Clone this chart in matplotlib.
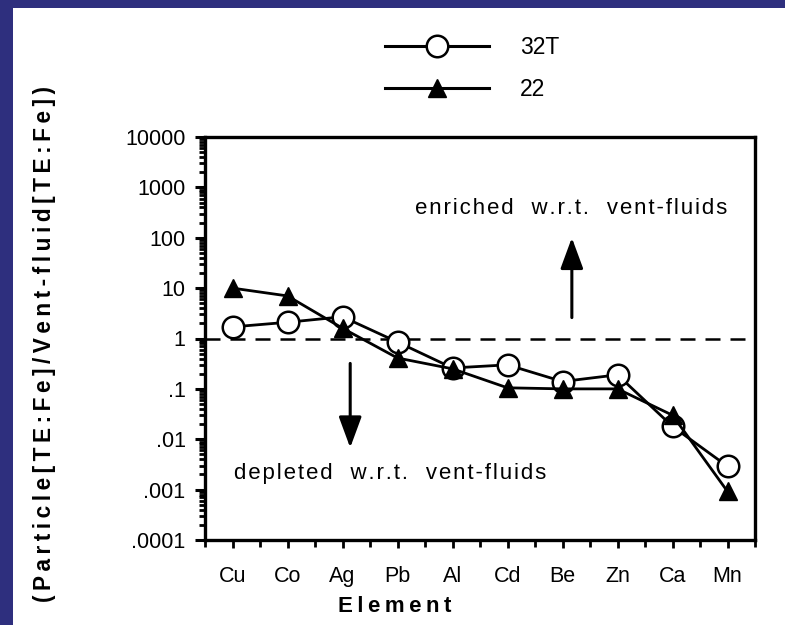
import matplotlib
matplotlib.use("Agg")
import matplotlib.pyplot as plt
from matplotlib.patches import Rectangle
from matplotlib.lines import Line2D
from matplotlib.ticker import LogLocator, FixedLocator, FixedFormatter, NullFormatter
import numpy as np

plt.rcParams['font.family'] = ['Liberation Sans', 'DejaVu Sans']

# elements along x, ratios read per station
elements = ['Cu', 'Co', 'Ag', 'Pb', 'Al', 'Cd', 'Be', 'Zn', 'Ca', 'Mn']
ratio_32T = [1.7, 2.1, 2.7, 0.85, 0.26, 0.30, 0.14, 0.19, 0.018, 0.0029]
ratio_22 = [10.0, 7.0, 1.6, 0.41, 0.25, 0.105, 0.10, 0.10, 0.030, 0.00092]

ytick_vals = [1e-4, 1e-3, 1e-2, 1e-1, 1, 10, 100, 1000, 10000]
ytick_labels = ['.0001', '.001', '.01', '.1', '1', '10', '100', '1000', '10000']


def spaced(s, sep='\u200a'):
    # poor man's letter spacing
    return sep.join(s)


fig = plt.figure(figsize=(7.85, 6.25), dpi=100)
fig.patch.set_facecolor('#2e2f7e')
fig.patches.append(Rectangle((13 / 785, 0), 1, 1 - 8 / 625, transform=fig.transFigure,
                             facecolor='white', edgecolor='none', zorder=-10))

ax = fig.add_axes([205 / 785, 1 - 540 / 625, 550 / 785, 403 / 625])
ax.set_zorder(2)
ax.set_facecolor('none')
x = np.arange(len(elements))

ax.axhline(1, color='black', lw=1.8, dashes=(6, 4), zorder=1)
ax.plot(x, ratio_32T, '-o', color='black', lw=2, ms=15.5, mfc='white', mec='black', mew=1.8,
        zorder=2, label='32T')
ax.plot(x, ratio_22, '-^', color='black', lw=2, ms=13, mfc='black', mec='black',
        zorder=3, label='22')

ax.set_yscale('log')
ax.set_ylim(1e-4, 1e4)
ax.set_xlim(-0.5, len(elements) - 0.5)
ax.yaxis.set_major_locator(FixedLocator(ytick_vals))
ax.yaxis.set_major_formatter(FixedFormatter(ytick_labels))
ax.yaxis.set_minor_locator(LogLocator(base=10, subs=np.arange(2, 10), numticks=20))
ax.yaxis.set_minor_formatter(NullFormatter())
ax.set_xticks(x)
ax.set_xticklabels(elements)
ax.set_xticks(np.arange(-0.5, len(elements), 1.0), minor=True)

for sp in ax.spines.values():
    sp.set_linewidth(2.4)
ax.tick_params(axis='y', which='major', direction='out', length=7, width=2.2, pad=7, labelsize=15.5)
ax.tick_params(axis='y', which='minor', direction='out', length=4, width=2)
ax.tick_params(axis='x', which='major', direction='out', length=6, width=2, pad=13, labelsize=15.5)
ax.tick_params(axis='x', which='minor', direction='out', length=5, width=2)

ax.set_xlabel(spaced('Element', '\u2009'), fontsize=16, fontweight='bold')
ax.xaxis.set_label_coords((395 - 205) / 550, (540 - 606) / 403)
ax.xaxis.label.set_va('center')
fig.text(45 / 785, 1 - 344 / 625, spaced('(Particle[TE:Fe]/Vent-fluid[TE:Fe])', '\u2009'),
         rotation=90, ha='center', va='center', fontsize=16.3, fontweight='bold')

ax.text(6.15, 375, spaced('enriched  w.r.t.  vent-fluids'), ha='center', va='center', fontsize=16)
ax.text(2.86, 0.00205, spaced('depleted  w.r.t.  vent-fluids'), ha='center', va='center', fontsize=16)
arrow = dict(arrowstyle='-|>,head_length=1.9,head_width=0.7', lw=2.2, color='black',
             shrinkA=0, shrinkB=0)
ax.annotate('', xy=(6.17, 100), xytext=(6.17, 2.6), arrowprops=arrow)
ax.annotate('', xy=(2.14, 0.0068), xytext=(2.14, 0.32), arrowprops=arrow)

handles = [Line2D([], [], color='black', lw=2.2, marker='o', ms=15.5, mfc='white', mew=1.8),
           Line2D([], [], color='black', lw=2.2, marker='^', ms=13, mfc='black')]
fig.legend(handles, ['32T', '22'], loc='upper left', bbox_to_anchor=(385 / 785, 1 - 36 / 625),
           frameon=False, fontsize=16.5, handlelength=4.55, handletextpad=1.35,
           labelspacing=0.85, borderpad=0, borderaxespad=0, numpoints=1)

fig.savefig('out.png', dpi=100, facecolor=fig.get_facecolor())
